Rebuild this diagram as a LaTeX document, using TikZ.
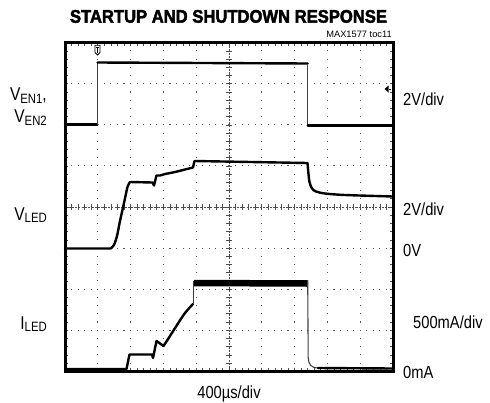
\documentclass[tikz,border=0pt]{standalone}
\usepackage{fontspec}
\setmainfont{Liberation Sans}
\newfontfamily\titlefont[FakeBold=2.5]{Liberation Sans Bold}
\usepackage{graphicx}
\newcommand{\cnd}[1]{\scalebox{0.84}[1]{#1}}
\newcommand{\sbs}[1]{\raisebox{-2.5pt}{\fontsize{13.5}{13.5}\selectfont #1}}
\tikzset{
  trace/.style={line width=2.4pt, black, line join=round, line cap=round},
  thintrace/.style={line width=0.9pt, black!75},
  gdot/.style={fill=black!65},
  lab/.style={inner sep=0pt, font=\fontsize{17.5}{17.5}\selectfont},
  llab/.style={inner sep=0pt, anchor=base east, font=\fontsize{18.5}{18.5}\selectfont},
  tickmark/.style={line width=0.7pt, black!70}
}
\begin{document}
\begin{tikzpicture}[x=1pt,y=-1pt]
\useasboundingbox (0,0) rectangle (490,402);
% grid dots
\foreach \i in {1,2,3,4,6,7,8,9}{
  \foreach \k in {1,...,39}{
    \fill[gdot] ({65+\i*32.8-0.55},{42.7+\k*8.215-0.55}) rectangle ++(1.1,1.1);
  }
}
\foreach \j in {1,2,3,5,6,7}{
  \foreach \k in {1,...,49}{
    \fill[gdot] ({65+\k*6.56-0.55},{42.7+\j*41.075-0.55}) rectangle ++(1.1,1.1);
  }
}
% center lines
\draw[tickmark, dash pattern=on 2.2pt off 1.1pt] (65,206.9) -- (393,206.9);
\draw[tickmark, dash pattern=on 2.2pt off 1.1pt] (229,42.7) -- (229,371.3);
\foreach \k in {1,...,49}{
  \draw[tickmark] ({65+\k*6.56},204) -- ({65+\k*6.56},209.8);
  \draw[tickmark] ({65+\k*6.56},42.7) -- ({65+\k*6.56},46);
  \draw[tickmark] ({65+\k*6.56},371.3) -- ({65+\k*6.56},368);
}
\foreach \k in {1,...,39}{
  \draw[tickmark] (226.1,{42.7+\k*8.215}) -- (231.9,{42.7+\k*8.215});
  \draw[tickmark] (65,{42.7+\k*8.215}) -- (68.3,{42.7+\k*8.215});
  \draw[tickmark] (393,{42.7+\k*8.215}) -- (389.7,{42.7+\k*8.215});
}
% frame
\draw[line width=3pt] (65,42.7) rectangle (393,371.3);
% V_EN trace
\draw[trace] (65,124.5) -- (97.5,124.5);
\draw[thintrace] (97.5,124.5) -- (97.5,62.5);
\draw[trace] (97.5,62.5) -- (307.7,63.5);
\draw[thintrace] (307.7,63.5) -- (307.7,125.5);
\draw[trace] (307.7,125.5) -- (393,125.5);
% V_LED trace
\draw[trace] (65,248.5) -- (110.7,248.5)
  -- plot[smooth,tension=0.4] coordinates {(110.7,248.5) (114,245) (117,236) (120,221) (124,203) (127.5,187) (130,182)}
  -- (152.5,182.5) -- (154,185.5) -- (156.5,175.5) -- (160,175.5) -- (165,174)
  -- plot[smooth,tension=0.5] coordinates {(165,174) (175,172) (185,169.5) (193,167.5)}
  -- (194.5,161) -- (307.5,163)
  -- plot[smooth,tension=0.5] coordinates {(307.5,163) (308.3,172) (309.5,182) (312,188.5) (316,191.5) (325,193.5) (345,195) (393,196.5)};
% I_LED trace
\draw[trace] (65,369) -- (126.5,369) -- (129.5,354.5) -- (152,354.5) -- (153,358) -- (156.5,341) -- (160,343.5) -- (163.5,346)
  -- plot[smooth,tension=0.5] coordinates {(163.5,346) (170,336) (177,325) (185,313) (193,304)};
\draw[thintrace] (193.5,304) -- (193.5,281);
\draw[line width=6.5pt, black] (194,283) -- (307.7,283.5);
\draw[thintrace, line width=1.1pt] (307.7,280) -- (308.2,358) .. controls (308.8,365) and (311,367.5) .. (318,368);
\draw[trace] (318,368) -- (393,368.5);
% trigger marker
\draw[black, line width=0.8pt, fill=white] (95,45.3) -- (100,45.3) -- (100,52.5) -- (97.5,55) -- (95,52.5) -- cycle;
\draw[black, line width=0.8pt] (96,47.3) -- (99,47.3) (97.5,47.3) -- (97.5,53);
% ground marker
\fill[black] (384.5,89) -- (388.5,85.5) -- (388.5,92.5) -- cycle;
\draw[black, line width=0.8pt] (388.5,89) -- (391,89);
% texts
\node[inner sep=0pt] (title) at (228.5,16.4) {\resizebox{317pt}{12.7pt}{\titlefont STARTUP AND SHUTDOWN RESPONSE}};
\node[inner sep=0pt, anchor=base east, font=\fontsize{9.3}{9.3}\selectfont] (toc) at (392,37.3) {MAX1577 toc11};
\node[llab] (ven1) at (47,100.7) {\cnd{V\sbs{EN1},}};
\node[llab] (ven2) at (47,122.7) {\cnd{V\sbs{EN2}}};
\node[llab] (vled) at (47,220) {\cnd{V\sbs{LED}}};
\node[llab] (iled) at (47,329.3) {\cnd{I\sbs{LED}}};
\node[lab, anchor=base west] (d1) at (403,105) {\cnd{2V/div}};
\node[lab, anchor=base west] (d2) at (403,215.5) {\cnd{2V/div}};
\node[lab, anchor=base west] (z1) at (403,256.5) {\cnd{0V}};
\node[lab, anchor=base west] (d3) at (413,328.5) {\cnd{500mA/div}};
\node[lab, anchor=base west] (z2) at (403,378.3) {\cnd{0mA}};
\node[lab, anchor=base] (tx) at (229,398) {\cnd{400µs/div}};
\end{tikzpicture}
\end{document}
